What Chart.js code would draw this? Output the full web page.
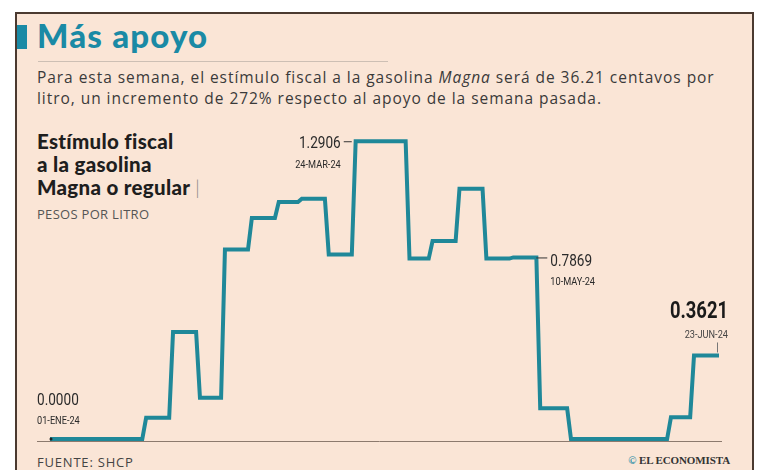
<!DOCTYPE html>
<html><head><meta charset="utf-8">
<script src="https://cdn.jsdelivr.net/npm/chart.js@4.4.1/dist/chart.umd.min.js"></script>
<style>
html,body{margin:0;padding:0;background:#fff;}
body{width:757px;height:470px;position:relative;overflow:hidden;}
#frame{position:absolute;left:15px;top:12px;width:735px;height:470px;background:#FAE5D6;border:2px solid #4b3a30;border-bottom:none;}
#mark{position:absolute;left:17px;top:25px;width:10px;height:24px;background:#1a8aa5;}
#title{position:absolute;left:37px;top:15px;font:900 33px Lato;letter-spacing:1.2px;color:#1a8aa5;white-space:nowrap;}
#rule{position:absolute;left:38px;top:61px;width:350px;height:1px;background:#cdbfb4;}
#sub{position:absolute;left:37px;top:67px;font:400 15.5px 'Open Sans';letter-spacing:0.95px;color:#3a3a3a;line-height:21px;width:715px;white-space:nowrap;}
#lbl{position:absolute;left:37px;top:130px;font:900 20.5px Lato;letter-spacing:0.3px;color:#1e1e1e;line-height:23px;white-space:nowrap;}
#lbl .bar{font-weight:300;color:#888;}
#unit{position:absolute;left:37px;top:205px;font:400 13px 'Open Sans';letter-spacing:0.3px;color:#555;white-space:nowrap;}
#src{position:absolute;left:37px;top:453px;font:400 13px 'Open Sans';letter-spacing:0.8px;color:#444;white-space:nowrap;}
#brand{position:absolute;right:27px;top:454px;font:700 11px 'Liberation Serif';color:#333;white-space:nowrap;letter-spacing:-0.1px;}
#brand span{color:#1a8aa5;}
canvas{position:absolute;left:0;top:0;}
</style></head>
<body>
<div id="frame"></div>
<div id="mark"></div>
<div id="title">Más apoyo</div>
<div id="rule"></div>
<div id="sub">Para esta semana, el estímulo fiscal a la gasolina <i>Magna</i> será de 36.21 centavos por<br>litro, un incremento de 272% respecto al apoyo de la semana pasada.</div>
<div id="lbl">Estímulo fiscal<br>a la gasolina<br>Magna o regular <span class="bar">|</span></div>
<div id="unit">PESOS POR LITRO</div>
<div id="src">FUENTE: SHCP</div>
<div id="brand"><span>©</span> EL ECONOMISTA</div>
<canvas id="c" width="757" height="470"></canvas>
<script>
// Días desde el 01-ENE-24 en que inicia cada nivel semanal del estímulo
const dias = [0, 24.5, 31.5, 38.5, 45, 52, 59, 65, 72, 79, 93, 99, 106, 113, 120, 127, 135, 161, 167];
const diaFinal = 174;
// Estímulo fiscal a la gasolina Magna (pesos por litro)
const estimulo = [0, 0.092, 0.464, 0.179, 0.821, 0.958, 1.027, 1.041, 0.800, 1.2906, 0.782, 0.858, 1.085, 0.782, 0.7869, 0.133, 0, 0.094, 0.3621];
// Etiquetas destacadas
const etiquetasValor = ['0.0000', '1.2906', '0.7869', '0.3621'];
const etiquetasFecha = ['01-ENE-24', '24-MAR-24', '10-MAY-24', '23-JUN-24'];

const puntos = [];
for (let i = 0; i < dias.length; i++) {
  const ini = i === 0 ? dias[i] : dias[i] + 0.5;
  const fin = i === dias.length - 1 ? diaFinal : dias[i + 1] - 0.5;
  puntos.push({x: ini, y: estimulo[i]});
  puntos.push({x: fin, y: estimulo[i]});
}

function condText(ctx, txt, x, y, font, color, align, sx) {
  ctx.save();
  ctx.font = font; ctx.fillStyle = color; ctx.textBaseline = 'alphabetic';
  const w = ctx.measureText(txt).width * sx;
  let left = align === 'right' ? x - w : x;
  ctx.translate(left, y); ctx.scale(sx, 1); ctx.textAlign = 'left';
  ctx.fillText(txt, 0, 0);
  ctx.restore();
}

const anotaciones = {
  id: 'anotaciones',
  beforeDatasetsDraw(chart) {
    const ctx = chart.ctx, xs = chart.scales.x, ys = chart.scales.y;
    const y0 = ys.getPixelForValue(0);
    ctx.save();
    ctx.strokeStyle = '#8c7a6e'; ctx.lineWidth = 1;
    ctx.beginPath(); ctx.moveTo(37, y0 + 2.5); ctx.lineTo(xs.getPixelForValue(diaFinal) + 3, y0 + 2.5); ctx.stroke();
    ctx.restore();
  },
  afterDatasetsDraw(chart) {
    const ctx = chart.ctx, xs = chart.scales.x, ys = chart.scales.y;
    const idx = [0, estimulo.indexOf(1.2906), estimulo.indexOf(0.7869), estimulo.length - 1];
    const numFont = '400 17px Roboto', dateFont = '400 11.5px Roboto';
    ctx.save();
    ctx.strokeStyle = '#333'; ctx.lineWidth = 1;
    // 0.0000
    let px = xs.getPixelForValue(dias[idx[0]]), py = ys.getPixelForValue(estimulo[idx[0]]);
    condText(ctx, etiquetasValor[0], 37, py - 34, numFont, '#2a2a2a', 'left', 0.8);
    condText(ctx, etiquetasFecha[0], 37, py - 15, dateFont, '#2a2a2a', 'left', 0.8);
    ctx.fillStyle = '#222'; ctx.beginPath(); ctx.arc(px + 1, py, 1.5, 0, Math.PI * 2); ctx.fill();
    // 1.2906
    px = xs.getPixelForValue(dias[idx[1]]); py = ys.getPixelForValue(estimulo[idx[1]]);
    condText(ctx, etiquetasValor[1], px - 13, py + 7, numFont, '#2a2a2a', 'right', 0.8);
    condText(ctx, etiquetasFecha[1], px - 13, py + 27, dateFont, '#2a2a2a', 'right', 0.8);
    ctx.beginPath(); ctx.moveTo(px - 10, py + 0.5); ctx.lineTo(px - 2, py + 0.5); ctx.stroke();
    // 0.7869
    px = xs.getPixelForValue(dias[idx[2] + 1]); py = ys.getPixelForValue(estimulo[idx[2]]);
    condText(ctx, etiquetasValor[2], px + 12, py + 9, numFont, '#2a2a2a', 'left', 0.8);
    condText(ctx, etiquetasFecha[2], px + 12, py + 28, dateFont, '#2a2a2a', 'left', 0.8);
    ctx.beginPath(); ctx.moveTo(px - 2, py + 0.5); ctx.lineTo(px + 9, py + 0.5); ctx.stroke();
    // 0.3621
    px = xs.getPixelForValue(diaFinal); py = ys.getPixelForValue(estimulo[idx[3]]);
    condText(ctx, etiquetasValor[3], px + 9, py - 37, '700 23px Roboto', '#1a1a1a', 'right', 0.8);
    condText(ctx, etiquetasFecha[3], px + 9, py - 17, dateFont, '#444', 'right', 0.8);
    ctx.strokeStyle = '#777';
    ctx.beginPath(); ctx.moveTo(px - 1.5, py - 13); ctx.lineTo(px - 1.5, py - 3); ctx.stroke();
    ctx.restore();
  }
};

new Chart(document.getElementById('c'), {
  type: 'line',
  data: { datasets: [{ data: puntos, borderColor: '#1f8899', borderWidth: 4, pointRadius: 0, tension: 0, fill: false, clip: false, borderJoinStyle: 'miter', borderCapStyle: 'butt' }] },
  options: {
    responsive: false, animation: false, events: [],
    layout: { padding: { left: 50, right: 38, top: 116, bottom: 31 } },
    scales: {
      x: { type: 'linear', min: 0, max: diaFinal, display: false },
      y: { min: 0, max: 1.4, display: false }
    },
    plugins: { legend: { display: false }, tooltip: { enabled: false } }
  },
  plugins: [anotaciones]
});
</script>
</body></html>
